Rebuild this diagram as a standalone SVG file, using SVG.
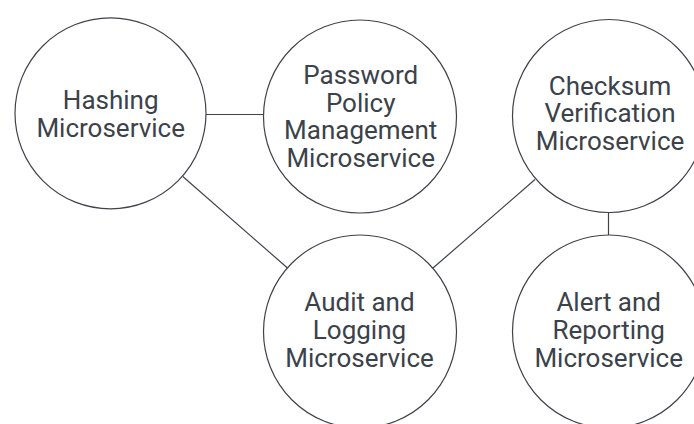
<svg xmlns="http://www.w3.org/2000/svg" width="694" height="424" viewBox="0 0 694 424">
<style>
.node{fill:#ffffff;stroke:#3f4349;stroke-width:1.2}
.edge{stroke:#3f4349;stroke-width:1.2;fill:none}
.lbl{font-family:Roboto,"Liberation Sans",sans-serif;font-size:26px;fill:#3b424a;text-anchor:middle}
</style>
<rect width="694" height="424" fill="#ffffff"/>
<g id="connectors">
<line class="edge" x1="206" y1="114.5" x2="263.5" y2="114.5"/>
<line class="edge" x1="182.8" y1="176.5" x2="287.5" y2="268"/>
<line class="edge" x1="535" y1="179.5" x2="433" y2="268"/>
<line class="edge" x1="608.5" y1="212.5" x2="608.5" y2="235"/>
</g>
<g id="hashing">
<circle class="node" cx="110.5" cy="113.3" r="95.5"/>
<text class="lbl" x="110.7" y="109.3">Hashing</text>
<text class="lbl" x="110.7" y="136.7">Microservice</text>
</g>
<g id="password">
<circle class="node" cx="360" cy="116.5" r="96.5"/>
<text class="lbl" x="360.7" y="84.3">Password</text>
<text class="lbl" x="360.7" y="111.7">Policy</text>
<text class="lbl" x="360.7" y="139">Management</text>
<text class="lbl" x="360.7" y="166.5">Microservice</text>
</g>
<g id="checksum">
<circle class="node" cx="609" cy="116" r="96.5"/>
<text class="lbl" x="610" y="95">Checksum</text>
<text class="lbl" x="610" y="122.3">Verification</text>
<text class="lbl" x="610" y="150">Microservice</text>
</g>
<g id="audit">
<circle class="node" cx="360" cy="331.5" r="96.5"/>
<text class="lbl" x="359.5" y="311">Audit and</text>
<text class="lbl" x="359.5" y="339.3">Logging</text>
<text class="lbl" x="359.5" y="366.7">Microservice</text>
</g>
<g id="alert">
<circle class="node" cx="609" cy="331.5" r="96.5"/>
<text class="lbl" x="608.7" y="311">Alert and</text>
<text class="lbl" x="608.7" y="339.3">Reporting</text>
<text class="lbl" x="608.7" y="366.7">Microservice</text>
</g>
</svg>
